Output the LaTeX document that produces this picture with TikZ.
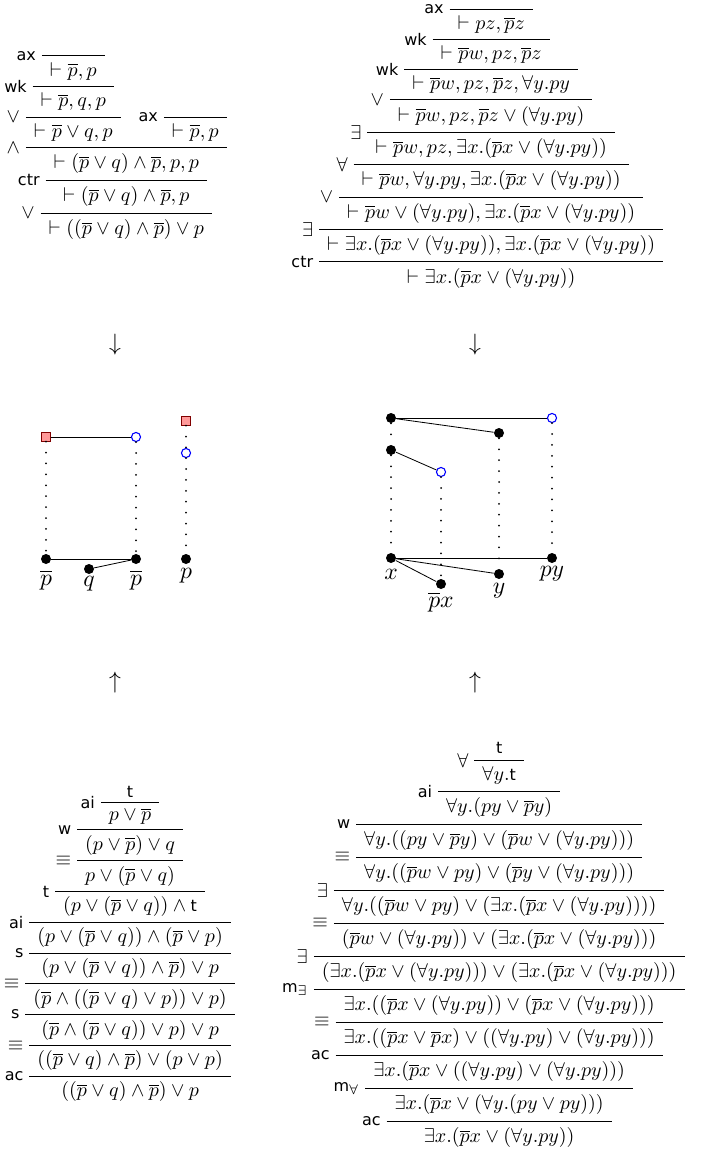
\documentclass[tikz,border=0pt]{standalone}
\usepackage{fontspec}
\setsansfont{DejaVu Sans}
\usepackage{bussproofs}
\usetikzlibrary{positioning}
\def\extraVskip{3pt}
\def\defaultHypSeparation{\hskip 9pt}
\newcommand{\np}{\overline{p}}
\newcommand{\rl}[1]{{\fontsize{8}{9}\selectfont\sffamily #1}}
\newcommand{\tc}{\hbox{\rl{t}}}
\tikzset{
  atom/.style={circle,fill=black,inner sep=0pt,minimum size=5.5pt},
  hole/.style={circle,draw=blue,fill=white,line width=0.6pt,inner sep=0pt,minimum size=5pt},
  unit/.style={rectangle,draw=red!50!black,fill=red!40,line width=0.5pt,inner sep=0pt,minimum size=4.6pt},
  flow/.style={line width=1.1pt,dash pattern=on 0pt off 6pt,line cap=round},
  link/.style={line width=0.45pt},
  proof/.style={inner sep=0pt,scale=1.1},
  lbl/.style={scale=1.3,inner sep=0pt},
}
\begin{document}
\begin{tikzpicture}[x=0.55pt,y=-0.55pt]
  \useasboundingbox (0,0) rectangle (701,1149);
  % top left derivation
  \node[proof,anchor=south] (dtl) at (115.5,240) {%
    \AxiomC{}
    \LeftLabel{\rl{ax}}
    \UnaryInfC{$\vdash \np, p$}
    \LeftLabel{\rl{wk}}
    \UnaryInfC{$\vdash \np, q, p$}
    \LeftLabel{$\vee$}
    \UnaryInfC{$\vdash \np\vee q, p$}
    \AxiomC{}
    \LeftLabel{\rl{ax}}
    \UnaryInfC{$\vdash \np, p$}
    \LeftLabel{$\wedge$}
    \BinaryInfC{$\vdash (\np\vee q)\wedge\np, p, p$}
    \LeftLabel{\rl{ctr}}
    \UnaryInfC{$\vdash (\np\vee q)\wedge\np, p$}
    \LeftLabel{$\vee$}
    \UnaryInfC{$\vdash ((\np\vee q)\wedge\np)\vee p$}
    \DisplayProof};
  % top right derivation
  \node[proof,anchor=south] (dtr) at (474,288.5) {%
    \def\extraVskip{2.9pt}%
    \AxiomC{}
    \LeftLabel{\rl{ax}}
    \UnaryInfC{$\vdash pz, \np z$}
    \LeftLabel{\rl{wk}}
    \UnaryInfC{$\vdash \np w, pz, \np z$}
    \LeftLabel{\rl{wk}}
    \UnaryInfC{$\vdash \np w, pz, \np z, \forall y.py$}
    \LeftLabel{$\vee$}
    \UnaryInfC{$\vdash \np w, pz, \np z\vee(\forall y.py)$}
    \LeftLabel{$\exists$}
    \UnaryInfC{$\vdash \np w, pz, \exists x.(\np x\vee(\forall y.py))$}
    \LeftLabel{$\forall$}
    \UnaryInfC{$\vdash \np w, \forall y.py, \exists x.(\np x\vee(\forall y.py))$}
    \LeftLabel{$\vee$}
    \UnaryInfC{$\vdash \np w\vee(\forall y.py), \exists x.(\np x\vee(\forall y.py))$}
    \LeftLabel{$\exists$}
    \UnaryInfC{$\vdash \exists x.(\np x\vee(\forall y.py)), \exists x.(\np x\vee(\forall y.py))$}
    \LeftLabel{\rl{ctr}}
    \UnaryInfC{$\vdash \exists x.(\np x\vee(\forall y.py))$}
    \DisplayProof};
  \node[scale=1.3] (al) at (115,345) {$\downarrow$};
  \node[scale=1.3] (ar) at (475,345) {$\downarrow$};
  % left graph
  \node[unit] (s1) at (46,437) {};
  \node[hole] (h1) at (136,437) {};
  \node[unit] (s2) at (186,421) {};
  \node[hole] (h2) at (186,453) {};
  \node[atom] (a1) at (46,559) {};
  \node[atom] (a2) at (89,569) {};
  \node[atom] (a3) at (136,559) {};
  \node[atom] (a4) at (186,559) {};
  \draw[link] (s1) -- (h1);
  \draw[link] (a1) -- (a3);
  \draw[link] (a2) -- (a3);
  \foreach \u/\v in {s1/a1,h1/a3,s2/h2,h2/a4}
    \draw[flow] (\u) -- (\v);
  \node[lbl] at (46,580) {$\np$};
  \node[lbl] at (89,584) {$q$};
  \node[lbl] at (136,580) {$\np$};
  \node[lbl] at (186,576) {$p$};
  % right graph
  \node[atom] (b1) at (391,418) {};
  \node[hole] (c1) at (552,418) {};
  \node[atom] (b2) at (499,433) {};
  \node[atom] (b3) at (391,450) {};
  \node[hole] (c2) at (441,472) {};
  \node[atom] (bx) at (391,558) {};
  \node[atom] (bp) at (552,558) {};
  \node[atom] (by) at (499,574) {};
  \node[atom] (bn) at (441,584) {};
  \foreach \u/\v in {b1/c1,b1/b2,b3/c2,bx/bp,bx/by,bx/bn}
    \draw[link] (\u) -- (\v);
  \foreach \u/\v in {b1/b3,b3/bx,b2/by,c2/bn,c1/bp}
    \draw[flow] (\u) -- (\v);
  \node[lbl] at (391,574) {$x$};
  \node[lbl] at (552,574) {$py$};
  \node[lbl] at (499,591) {$y$};
  \node[lbl] at (441,602) {$\np x$};
  \node[scale=1.3] (bl) at (115,683) {$\uparrow$};
  \node[scale=1.3] (br) at (475,683) {$\uparrow$};
  % bottom left derivation
  \node[proof,anchor=south] (dbl) at (116,1102) {%
    \def\extraVskip{2.5pt}%
    \AxiomC{\rl{t}}
    \LeftLabel{\rl{ai}}
    \UnaryInfC{$p\vee\np$}
    \LeftLabel{\rl{w}}
    \UnaryInfC{$(p\vee\np)\vee q$}
    \LeftLabel{$\equiv$}
    \UnaryInfC{$p\vee(\np\vee q)$}
    \LeftLabel{\rl{t}}
    \UnaryInfC{$(p\vee(\np\vee q))\wedge\tc$}
    \LeftLabel{\rl{ai}}
    \UnaryInfC{$(p\vee(\np\vee q))\wedge(\np\vee p)$}
    \LeftLabel{\rl{s}}
    \UnaryInfC{$(p\vee(\np\vee q))\wedge\np)\vee p$}
    \LeftLabel{$\equiv$}
    \UnaryInfC{$(\np\wedge((\np\vee q)\vee p))\vee p)$}
    \LeftLabel{\rl{s}}
    \UnaryInfC{$(\np\wedge(\np\vee q))\vee p)\vee p$}
    \LeftLabel{$\equiv$}
    \UnaryInfC{$((\np\vee q)\wedge\np)\vee(p\vee p)$}
    \LeftLabel{\rl{ac}}
    \UnaryInfC{$((\np\vee q)\wedge\np)\vee p$}
    \DisplayProof};
  % bottom right derivation
  \node[proof,anchor=south] (dbr) at (480,1148) {%
    \def\extraVskip{3.05pt}%
    \AxiomC{\rl{t}}
    \LeftLabel{$\forall$}
    \UnaryInfC{$\forall y.\tc$}
    \LeftLabel{\rl{ai}}
    \UnaryInfC{$\forall y.(py\vee\np y)$}
    \LeftLabel{\rl{w}}
    \UnaryInfC{$\forall y.((py\vee\np y)\vee(\np w\vee(\forall y.py)))$}
    \LeftLabel{$\equiv$}
    \UnaryInfC{$\forall y.((\np w\vee py)\vee(\np y\vee(\forall y.py)))$}
    \LeftLabel{$\exists$}
    \UnaryInfC{$\forall y.((\np w\vee py)\vee(\exists x.(\np x\vee(\forall y.py))))$}
    \LeftLabel{$\equiv$}
    \UnaryInfC{$(\np w\vee(\forall y.py))\vee(\exists x.(\np x\vee(\forall y.py)))$}
    \LeftLabel{$\exists$}
    \UnaryInfC{$(\exists x.(\np x\vee(\forall y.py)))\vee(\exists x.(\np x\vee(\forall y.py)))$}
    \LeftLabel{\rl{m}$_\exists$}
    \UnaryInfC{$\exists x.((\np x\vee(\forall y.py))\vee(\np x\vee(\forall y.py)))$}
    \LeftLabel{$\equiv$}
    \UnaryInfC{$\exists x.((\np x\vee\np x)\vee((\forall y.py)\vee(\forall y.py)))$}
    \LeftLabel{\rl{ac}}
    \UnaryInfC{$\exists x.(\np x\vee((\forall y.py)\vee(\forall y.py)))$}
    \LeftLabel{\rl{m}$_\forall$}
    \UnaryInfC{$\exists x.(\np x\vee(\forall y.(py\vee py)))$}
    \LeftLabel{\rl{ac}}
    \UnaryInfC{$\exists x.(\np x\vee(\forall y.py))$}
    \DisplayProof};
\end{tikzpicture}
\end{document}
